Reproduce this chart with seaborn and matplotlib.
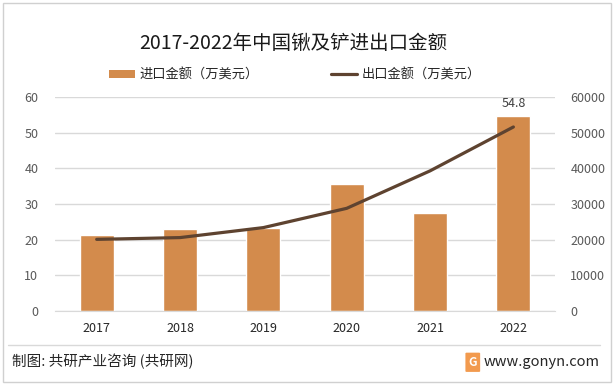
import matplotlib
matplotlib.use("Agg")
import matplotlib.pyplot as plt
import seaborn as sns
import numpy as np
import pandas as pd
from matplotlib.patches import Patch, FancyBboxPatch
from matplotlib.lines import Line2D

# data
years = ['2017', '2018', '2019', '2020', '2021', '2022']
imports = [21.2, 22.9, 23.2, 35.7, 27.6, 54.8]          # 万美元, left axis
exports = [20100, 20600, 23400, 28800, 39300, 51600]     # 万美元, right axis
left_ticks = [0, 10, 20, 30, 40, 50, 60]
right_ticks = [0, 10000, 20000, 30000, 40000, 50000, 60000]

bar_label = '进口金额（万美元）'
line_label = '出口金额（万美元）'
title = '2017-2022年中国锹及铲进出口金额'

sns.set_style('white')
plt.rcParams['font.family'] = ['Noto Sans CJK SC', 'DejaVu Sans']

bar_color = '#D38B4C'
line_color = '#5E4330'
grid_color = '#D9D9D9'

df = pd.DataFrame({'year': years, 'imports': imports, 'exports': exports})

fig = plt.figure(figsize=(6.14, 3.85), dpi=100)
ax = fig.add_axes([0.0896, 0.192, 0.8144, 0.556])

sns.barplot(data=df, x='year', y='imports', color=bar_color, width=0.41,
            saturation=1, ax=ax, zorder=2)
ax.set_ylim(0, 60)
ax.set_yticks(left_ticks)
ax.set_xlim(-0.5, len(years) - 0.5)
ax.grid(axis='y', color=grid_color, linewidth=1, zorder=0)
ax.set_axisbelow(True)
for s in ['top', 'right', 'left']:
    ax.spines[s].set_visible(False)
ax.spines['bottom'].set_color(grid_color)
ax.tick_params(axis='y', length=0, pad=12, labelsize=9, labelcolor='#595959')
ax.tick_params(axis='x', length=0, pad=8, labelsize=9, labelcolor='#262626')
ax.set_xlabel('')
ax.set_ylabel('')

# value label on last bar
ax.annotate(f'{imports[-1]}', xy=(len(years) - 1, imports[-1]), xytext=(0, 4),
            textcoords='offset points', ha='center', va='bottom',
            fontsize=9, color='#404040')

ax2 = ax.twinx()
sns.lineplot(x=np.arange(len(years)), y=exports, ax=ax2, color=line_color,
             linewidth=2.3, zorder=3)
ax2.set_ylim(0, 60000)
ax2.set_yticks(right_ticks)
for s in ['top', 'right', 'left', 'bottom']:
    ax2.spines[s].set_visible(False)
ax2.tick_params(axis='y', length=0, pad=11, labelsize=9, labelcolor='#595959')
ax2.set_ylabel('')

# title
fig.text(0.478, 0.888, title, ha='center', va='center', fontsize=14, color='#1a1a1a')

# legend
handles = [Patch(facecolor=bar_color, edgecolor='none'),
           Line2D([0], [0], color=line_color, linewidth=2.3)]
fig.legend(handles, [bar_label, line_label], loc='center', ncol=2,
           bbox_to_anchor=(0.48, 0.805), frameon=False, fontsize=9.5,
           handlelength=2.0, handleheight=0.6, handletextpad=0.3,
           columnspacing=5.5)

# footer
fig.add_artist(Line2D([0.013, 0.978], [0.104, 0.104], color='#D9D9D9', linewidth=1))
fig.text(0.02, 0.06, '制图: 共研产业咨询 (共研网)', ha='left', va='center',
         fontsize=10.5, color='#262626')
fig.add_artist(FancyBboxPatch((0.760, 0.036), 0.020, 0.046,
                              boxstyle='round,pad=0.002', fc='#F29A4E', ec='none',
                              transform=fig.transFigure, zorder=4))
fig.text(0.770, 0.058, 'G', ha='center', va='center', fontsize=8.5, color='white',
         fontweight='bold', zorder=5)
fig.text(0.976, 0.06, 'www.gonyn.com', ha='right', va='center',
         fontsize=10.5, color='#262626')

# outer frame
fig.add_artist(plt.Rectangle((0.005, 0.008), 0.99, 0.984, fill=False,
                             edgecolor='#D0D0D0', linewidth=1,
                             transform=fig.transFigure))

fig.savefig('out.png', dpi=100)
